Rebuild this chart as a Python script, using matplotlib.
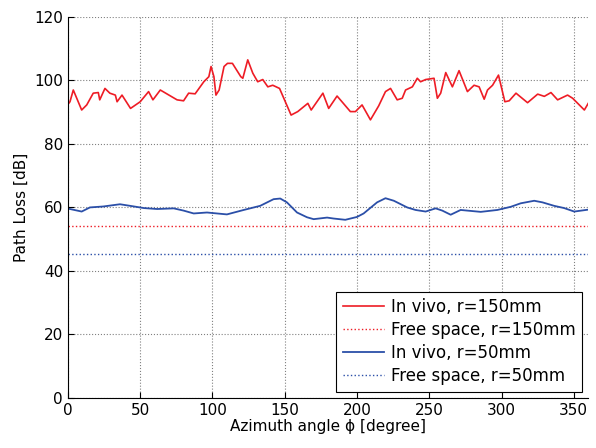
import numpy as np
import matplotlib
matplotlib.use("Agg")
from matplotlib import pyplot as plt

# in vivo path loss, r = 150 mm (azimuth deg, dB)
red_deg = [0, 1.4, 3.7, 9.5, 13, 17.5, 21, 22, 25.6, 29, 32.8, 34, 37.4, 43.3, 50,
           55.8, 58.8, 63.9, 75.5, 80, 83.5, 88, 94, 97.5, 99, 101, 102.4, 104.6,
           108, 110.4, 113.8, 119.6, 121, 124.4, 127.9, 131.3, 134.8, 138.3, 141.7,
           146.4, 154.4, 159, 166, 168.3, 176.4, 180.4, 186.2, 189.6, 195.4, 198.9,
           203.5, 209.3, 215, 219.7, 223.2, 227.8, 231.3, 233.6, 238.3, 241.7, 244,
           247.5, 253.3, 255.6, 257.9, 261.4, 266, 270.6, 276.4, 281, 284.5, 288,
           290.3, 293.8, 297.9, 302.3, 305.3, 310, 318, 325, 329.6, 334.2, 338.8,
           345.7, 349.2, 357.3, 360]
red_db = [92.5, 93.3, 97, 90.7, 92.3, 96, 96.2, 93.9, 97.5, 96, 95.4, 93.3, 95.4, 91.2, 93.3,
          96.5, 93.9, 97, 93.9, 93.6, 96, 95.8, 99.6, 101.2, 104.4, 101.2, 95.4, 97,
          104.4, 105.4, 105.4, 101.2, 100.7, 106.5, 102.3, 99.6, 100.3, 98, 98.5,
          97.5, 89.1, 90.2, 92.8, 90.7, 96, 91.2, 95.1, 93.3, 90.2, 90.2,
          92.3, 87.6, 92, 96.5, 97.5, 93.9, 94.4, 97, 98, 100.7, 99.6,
          100.3, 100.7, 94.4, 96, 102.5, 98, 103.1, 96.5, 98.5, 98, 94.1,
          97, 98.5, 101.7, 93.3, 93.6, 96, 93, 95.7, 95, 96.2, 93.9,
          95.4, 94.4, 90.7, 92.8]

# in vivo path loss, r = 50 mm
blue_deg = [0, 1.4, 9.5, 15.2, 24.5, 36, 43, 52.5, 61.7, 73.2, 80, 87, 96.2, 110, 121.6,
            133, 142.3, 146.9, 151.5, 158.5, 165.4, 170, 179.3, 183.8, 191.9, 200,
            204.6, 213.9, 219.7, 225.5, 234.7, 240.5, 247.5, 254.4, 259, 264.8, 271.7,
            285.6, 297.1, 306.4, 313.3, 322.6, 328.3, 336.4, 343.3, 350.3, 360]
blue_db = [59.6, 59.5, 58.7, 60, 60.3, 61, 60.5, 59.8, 59.5, 59.7, 59, 58.1, 58.4, 57.8, 59.2,
           60.5, 62.6, 62.8, 61.6, 58.4, 56.9, 56.3, 56.8, 56.5, 56.1, 57,
           58.1, 61.6, 62.9, 62.1, 60, 59.2, 58.7, 59.7, 59, 57.7, 59.2,
           58.6, 59.2, 60.2, 61.3, 62.1, 61.6, 60.5, 59.8, 58.7, 59.3]

# free space levels
free_150 = 54.2
free_50 = 45.3

red = "#ee1c25"
blue = "#2b4fa8"

fig = plt.figure(figsize=(5.96, 4.48), dpi=100)
ax = fig.add_axes([0.114, 0.112, 0.873, 0.85])

ax.plot(red_deg, red_db, color=red, lw=1.2, label="In vivo, r=150mm")
ax.plot([0, 360], [free_150, free_150], color=red, lw=1.0, ls=":", label="Free space, r=150mm")
ax.plot(blue_deg, blue_db, color=blue, lw=1.3, label="In vivo, r=50mm")
ax.plot([0, 360], [free_50, free_50], color=blue, lw=1.0, ls=":", label="Free space, r=50mm")

ax.set_xlim(0, 360)
ax.set_ylim(0, 120)
ax.set_xticks(np.arange(0, 351, 50))
ax.set_yticks(np.arange(0, 121, 20))
ax.tick_params(direction="in", labelsize=11, length=4)
ax.grid(True, ls=":", color="#808080", lw=0.8)
for s in ["top", "right"]:
    ax.spines[s].set_visible(False)

ax.set_xlabel("Azimuth angle ϕ [degree]", fontsize=11, labelpad=1)
ax.set_ylabel("Path Loss [dB]", fontsize=11)

leg = ax.legend(loc="lower right", fontsize=12, fancybox=False, framealpha=1,
                edgecolor="black", borderaxespad=0.35, handlelength=2.5,
                labelspacing=0.3, handletextpad=0.4, borderpad=0.4)
leg.get_frame().set_linewidth(0.8)

fig.savefig("out.png", dpi=100)
